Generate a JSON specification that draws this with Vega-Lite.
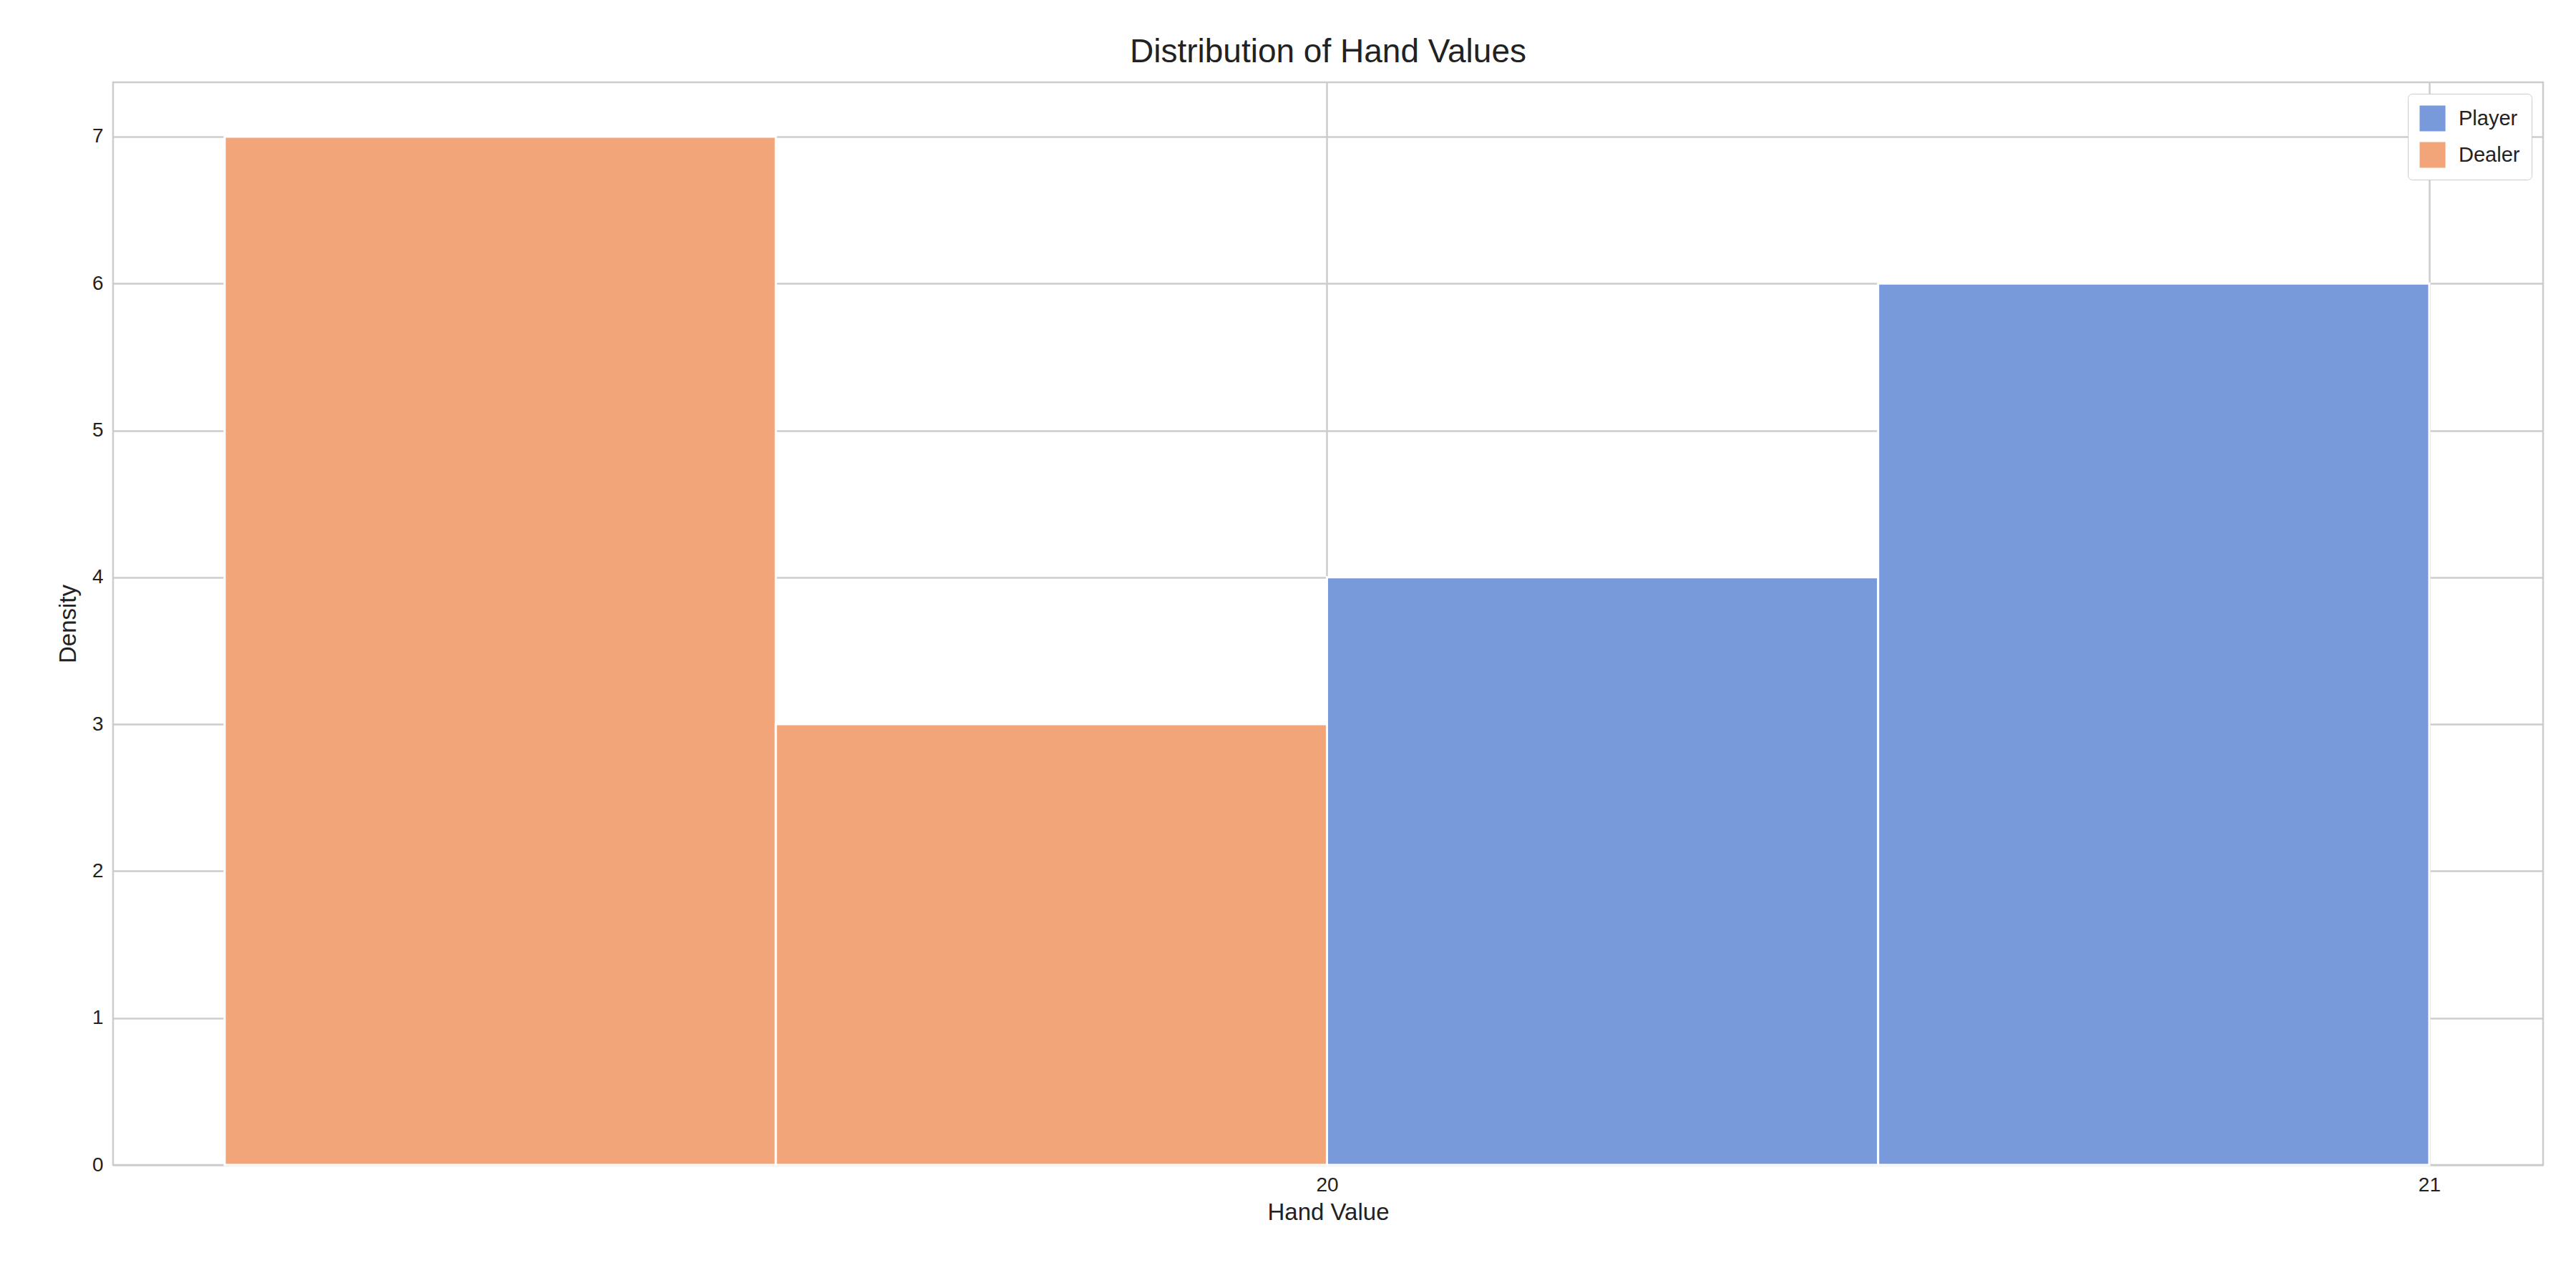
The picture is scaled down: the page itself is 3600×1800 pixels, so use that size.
{
  "$schema": "https://vega.github.io/schema/vega-lite/v6.json",
  "autosize": "none",
  "padding": {"left": 158, "top": 115, "right": 46, "bottom": 172},
  "width": 3396,
  "height": 1513,
  "background": "white",
  "config": {
    "font": "Liberation Sans",
    "view": {"stroke": "#cccccc", "strokeWidth": 2.5},
    "axis": {"gridColor": "#cccccc", "gridWidth": 2.5, "domain": false, "ticks": false, "labelFontSize": 28, "titleFontSize": 33, "labelColor": "#222222", "titleColor": "#222222", "titleFontWeight": "normal", "labelPadding": 14}
  },
  "title": {"text": "Distribution of Hand Values", "fontSize": 46, "fontWeight": "normal", "color": "#222222", "offset": 18},
  "data": {
    "values": [
      {"who": "Dealer", "start": 19.0, "end": 19.5, "density": 7},
      {"who": "Dealer", "start": 19.5, "end": 20.0, "density": 3},
      {"who": "Player", "start": 20.0, "end": 20.5, "density": 4},
      {"who": "Player", "start": 20.5, "end": 21.0, "density": 6}
    ]
  },
  "mark": {"type": "bar", "stroke": "white", "strokeWidth": 3, "orient": "vertical"},
  "encoding": {
    "x": {"field": "start", "type": "quantitative", "scale": {"domain": [18.902, 21.1], "nice": false, "zero": false}, "axis": {"values": [20, 21], "title": "Hand Value", "titlePadding": 8}},
    "x2": {"field": "end"},
    "y": {"field": "density", "type": "quantitative", "scale": {"domain": [0, 7.37], "nice": false}, "axis": {"values": [0, 1, 2, 3, 4, 5, 6, 7], "title": "Density", "titlePadding": 16}},
    "y2": {"datum": 0},
    "color": {"field": "who", "type": "nominal", "scale": {"domain": ["Player", "Dealer"], "range": ["#789ada", "#f2a578"]},
      "legend": {"title": null, "orient": "top-right", "offset": 16, "labelFontSize": 29, "symbolType": "square", "symbolSize": 1300, "symbolStrokeWidth": 0, "fillColor": "white", "strokeColor": "#cccccc", "padding": 16, "cornerRadius": 6, "labelColor": "#222222", "rowPadding": 14, "labelOffset": 18}}
  }
}
